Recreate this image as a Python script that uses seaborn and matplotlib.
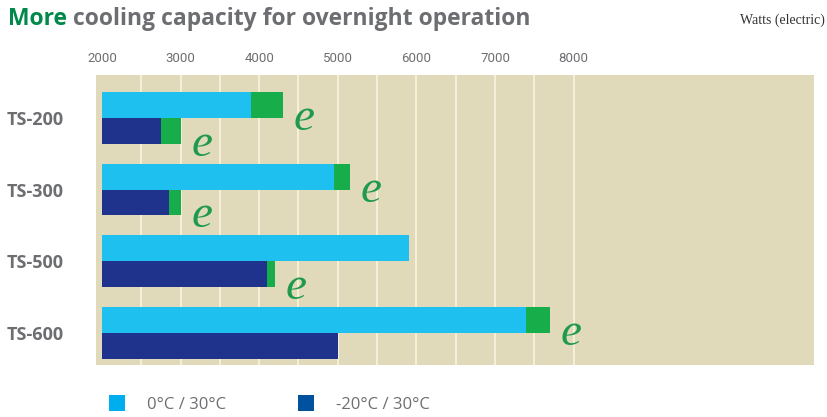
import matplotlib
matplotlib.use("Agg")
import matplotlib.pyplot as plt
import seaborn as sns
import pandas as pd
from matplotlib.ticker import FixedLocator, FuncFormatter
from matplotlib.lines import Line2D
from matplotlib import font_manager

# ---------------- data ----------------
models = ["TS-200", "TS-300", "TS-500", "TS-600"]
conditions = ["0°C / 30°C", "-20°C / 30°C"]
base_warm = [3900, 4950, 5900, 7400]     # 0°C / 30°C, bar without the "e" boost
total_warm = [4300, 5150, 5900, 7700]    # 0°C / 30°C, incl. green "e" boost
base_cold = [2750, 2850, 4100, 5000]     # -20°C / 30°C
total_cold = [3000, 3000, 4200, 5000]
tick_values = [2000, 3000, 4000, 5000, 6000, 7000, 8000]
grid_values = [2500, 3000, 3500, 4000, 4500, 5000, 5500, 6000, 6500, 7000, 7500, 8000]
axis_start = 2000

title_green = "More"
title_rest = "cooling capacity for overnight operation"
unit_label = "Watts (electric)"

# ---------------- styles ----------------
c_cyan = "#1ec0f0"
c_dark = "#1f338c"
c_green = "#16ad4a"
c_bg = "#e0dabb"
c_grid = "#f6f0da"
c_text = "#6d6e71"
c_title_green = "#00894a"
c_leg_cyan = "#00aeef"
c_leg_dark = "#0051a0"

sns.set_theme(style="white")
avail = {f.name for f in font_manager.fontManager.ttflist}
sans = "Open Sans" if "Open Sans" in avail else "DejaVu Sans"
narrow = "Liberation Sans Narrow" if "Liberation Sans Narrow" in avail else "Roboto"
serif = "Liberation Serif" if "Liberation Serif" in avail else "DejaVu Serif"
plt.rcParams["font.family"] = [sans, "DejaVu Sans"]

df = pd.DataFrame({
    "model": models * 2,
    "condition": [conditions[0]] * 4 + [conditions[1]] * 4,
    "base": base_warm + base_cold,
    "total": total_warm + total_cold,
})
df["base_off"] = df["base"] - axis_start
df["total_off"] = df["total"] - axis_start

fig = plt.figure(figsize=(8.27, 4.17), dpi=100)
W, H = 827, 417
ax = fig.add_axes([96 / W, (H - 365) / H, (814 - 96) / W, (365 - 75) / H])
ax.set_facecolor(c_bg)

bar_w = 0.72
sns.barplot(data=df, y="model", x="total_off", hue="condition", order=models,
            hue_order=conditions, palette=[c_green, c_green], orient="h",
            width=bar_w, ax=ax, legend=False, saturation=1, linewidth=0)
sns.barplot(data=df, y="model", x="base_off", hue="condition", order=models,
            hue_order=conditions, palette=[c_cyan, c_dark], orient="h",
            width=bar_w, ax=ax, legend=False, saturation=1, linewidth=0)

# "e" markers next to boosted bars
for i in range(len(models)):
    for j, (b, t) in enumerate([(base_warm[i], total_warm[i]), (base_cold[i], total_cold[i])]):
        if t > b:
            yc = i + (j - 0.5) * bar_w / 2
            ax.text(t - axis_start + 140, yc + 0.12, "e", fontsize=34, color="#1f9a4c",
                    family=serif, style="italic", ha="left", va="center_baseline")

ax.set_xlim(-76, 9058)
ax.set_ylim(3.45, -0.6)
ax.set_xlabel("")
ax.set_ylabel("")
for s in ax.spines.values():
    s.set_visible(False)

ax.xaxis.tick_top()
ax.xaxis.remove_overlapping_locs = False
ax.set_xticks([v - axis_start for v in tick_values])
ax.xaxis.set_major_formatter(FuncFormatter(lambda v, p: f"{int(round(v + axis_start))}"))
ax.xaxis.set_minor_locator(FixedLocator([v - axis_start for v in grid_values]))
ax.tick_params(axis="x", which="both", length=0, pad=7, labelsize=9.5, labelcolor=c_text)
for lbl in ax.get_xticklabels():
    lbl.set_family(narrow)
ax.grid(False)
ax.grid(True, which="minor", axis="x", color=c_grid, linewidth=1.4)
ax.set_axisbelow(True)

ax.tick_params(axis="y", length=0, pad=23, labelsize=13, labelcolor=c_text)
for lbl in ax.get_yticklabels():
    lbl.set_fontweight("bold")

# title
t1 = fig.text(8 / W, 1 - 19 / H, title_green, fontsize=16.5, fontweight="bold",
              color=c_title_green, va="center", ha="left")
fig.canvas.draw()
bb = t1.get_window_extent()
fig.text((bb.x1 + 6) / W, 1 - 19 / H, title_rest, fontsize=16.5, fontweight="bold",
         color=c_text, va="center", ha="left")
fig.text(1 - 2 / W, 1 - 20 / H, unit_label, fontsize=10, color="#333333",
         family=serif, ha="right", va="center")

# legend
handles = [Line2D([0], [0], marker="s", linestyle="none", markersize=11,
                  markerfacecolor=c, markeredgewidth=0) for c in (c_leg_cyan, c_leg_dark)]
fig.legend(handles, conditions, loc="center left", bbox_to_anchor=(100 / W, 1 - 405 / H),
           ncol=2, frameon=False, fontsize=12, handletextpad=1.2, columnspacing=4.2,
           labelcolor=c_text, borderaxespad=0, handlelength=1.2)

fig.savefig("out.png", dpi=100, facecolor="white")
